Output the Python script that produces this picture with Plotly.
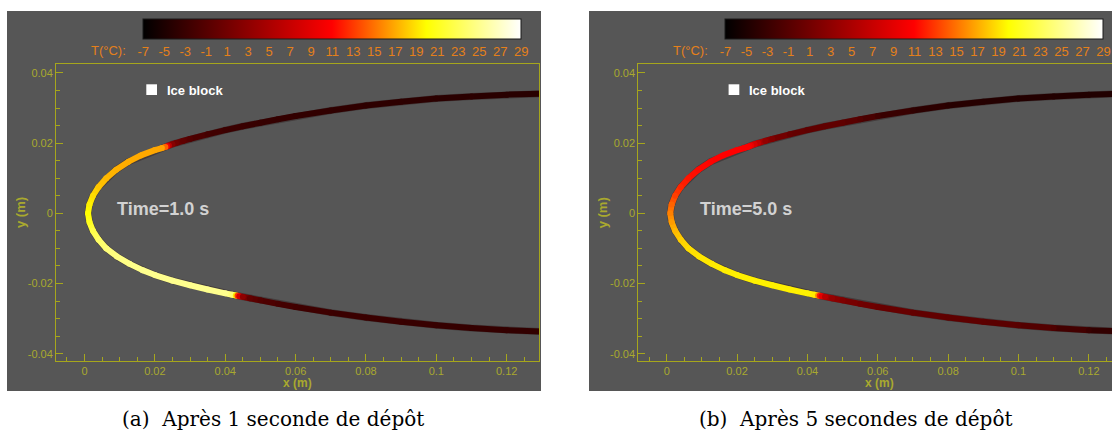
import plotly.graph_objects as go
from plotly.colors import sample_colorscale

# ---------------- data ----------------
# leading-edge wall: upper surface from the right end to the nose, then lower surface nose -> right end
x_curve = [0.1300, 0.1200, 0.1100, 0.1000, 0.0900, 0.0800, 0.0700, 0.0600, 0.0550, 0.0500,
           0.0450, 0.0400, 0.0350, 0.0300, 0.0280, 0.0260, 0.0250, 0.0240, 0.0235, 0.0230,
           0.0220, 0.0200, 0.0160, 0.0125, 0.0090, 0.0062, 0.0040, 0.0024, 0.0014, 0.0010,
           0.0014, 0.0024, 0.0040, 0.0062, 0.0092, 0.0128, 0.0165, 0.0200, 0.0250, 0.0300,
           0.0350, 0.0400, 0.0420, 0.0430, 0.0435, 0.0440, 0.0450, 0.0470, 0.0500, 0.0550,
           0.0600, 0.0700, 0.0800, 0.0900, 0.1000, 0.1100, 0.1200, 0.1300]
y_curve = [0.0341, 0.0338, 0.0333, 0.0327, 0.0318, 0.0307, 0.0293, 0.0277, 0.0268, 0.0258,
           0.0248, 0.0237, 0.0225, 0.0212, 0.0206, 0.0200, 0.0197, 0.0193, 0.0191, 0.0189,
           0.0186, 0.0180, 0.0165, 0.0147, 0.0124, 0.0100, 0.0075, 0.0050, 0.0025, 0.0000,
           -0.0025, -0.0050, -0.0075, -0.0100, -0.0123, -0.0144, -0.0162, -0.0176, -0.0192, -0.0205,
           -0.0217, -0.0228, -0.0232, -0.0234, -0.0235, -0.0236, -0.0238, -0.0242, -0.0248, -0.0258,
           -0.0267, -0.0283, -0.0297, -0.0309, -0.0319, -0.0327, -0.0333, -0.0337]

# temperature (°C) along the wall, t = 1 s
T_1s = [-4.2, -4.2, -4.0, -4.0, -3.8, -3.8, -3.6, -3.5, -3.3, -3.2,
        -3.0, -2.8, -2.2, -1.2, -0.3, 1.0, 2.5, 6.0, 10.0, 14.5,
        16.8, 16.9, 17.0, 17.1, 17.2, 17.5, 18.0, 18.8, 19.5, 20.0,
        21.0, 22.5, 23.5, 24.2, 24.6, 24.8, 25.0, 25.0, 25.0, 25.0,
        25.0, 25.0, 24.0, 19.0, 13.0, 8.0, 3.0, 0.0, -1.2, -2.0,
        -2.5, -2.8, -3.0, -3.0, -3.2, -3.3, -3.4, -3.5]
# temperature (°C) along the wall, t = 5 s
T_5s = [-4.7, -4.7, -4.6, -4.5, -4.4, -4.2, -3.6, -2.5, -1.2, -0.3,
        -0.2, -0.3, 0.3, 2.0, 3.5, 6.5, 8.0, 9.5, 10.2, 10.7,
        10.8, 11.0, 11.0, 11.1, 11.3, 11.7, 12.3, 13.2, 14.5, 15.5,
        16.5, 17.5, 18.3, 18.8, 19.1, 19.3, 19.4, 19.5, 19.5, 19.5,
        19.5, 19.5, 19.3, 16.0, 12.0, 9.0, 6.0, 3.5, 2.0, 1.0,
        0.5, 0.0, -0.3, -0.5, -0.8, -1.5, -3.0, -4.0]

T_min, T_max = -7, 29
cbar_vals = [-7, -5, -3, -1, 1, 3, 5, 7, 9, 11, 13, 15, 17, 19, 21, 23, 25, 27, 29]
cbar_text = ["-7", "-5", "-3", "-1", "1", "3", "5", "7", "9", "11", "13", "15", "17",
             "19", "21", "23", "25", "27", "29"]
x_tick_vals = [0, 0.02, 0.04, 0.06, 0.08, 0.1, 0.12]
x_tick_text = ["0", "0.02", "0.04", "0.06", "0.08", "0.1", "0.12"]
y_tick_vals = [-0.04, -0.02, 0, 0.02, 0.04]
y_tick_text = ["-0.04", "-0.02", "0", "0.02", "0.04"]
time_labels = ["Time=1.0 s", "Time=5.0 s"]
captions = ["(a)\u00a0 Après 1 seconde de dépôt", "(b)\u00a0 Après 5 secondes de dépôt"]
panel_T = [T_1s, T_5s]

# ---------------- style ----------------
W, H = 1112, 432
GRAY = "#565656"
OLIVE = "#a6a61c"
OLIVE_TXT = "#a9a92e"
ORANGE = "#e5801a"
SANS = "Liberation Sans, Arial, Helvetica, sans-serif"
SERIF = "DejaVu Serif, serif"
hot = [[0.0, "#000000"], [0.5, "#ff0000"], [0.75, "#ffff00"], [1.0, "#ffffff"]]


def px(p):
    return p / W


def py(p):
    return 1 - p / H


# pixel geometry of the two panels
panels = [
    dict(bg=(7, 541), frame=(56.0, 539.3), x0px=84.5),
    dict(bg=(589, 1112), frame=(638.3, 1112.0), x0px=666.7),
]
XS = 3518.0   # px per unit (x)
YS = 3510.0   # px per unit (y)
Y_TOP, Y_BOT, Y0PX = 64.0, 361.0, 213.3

fig = go.Figure()
shapes, annotations = [], []
layout_axes = {}

for k, p in enumerate(panels):
    sfx = "" if k == 0 else str(k + 1)
    xa, ya = "x" + sfx, "y" + sfx
    cax = "coloraxis" + sfx
    T = panel_T[k]
    dx = p["frame"][0] - panels[0]["frame"][0]

    # faint dark outline under the wall
    fig.add_trace(go.Scatter(x=x_curve, y=y_curve, mode="lines", xaxis=xa, yaxis=ya,
                             line=dict(color="rgba(25,0,0,0.3)", width=7),
                             hoverinfo="skip", showlegend=False))
    # coloured wall segments
    n = len(x_curve)
    for i in range(n - 1):
        f = ((T[i] + T[i + 1]) / 2 - T_min) / (T_max - T_min)
        c = sample_colorscale(hot, [min(max(f, 0), 1)])[0]
        fig.add_trace(go.Scatter(x=[x_curve[i], x_curve[i + 1]], y=[y_curve[i], y_curve[i + 1]],
                                 mode="lines", xaxis=xa, yaxis=ya,
                                 line=dict(color=c, width=6),
                                 hoverinfo="skip", showlegend=False))
    fig.add_trace(go.Scatter(x=x_curve, y=y_curve, mode="markers", xaxis=xa, yaxis=ya,
                             marker=dict(color=T, coloraxis=cax, size=6, line=dict(width=0)),
                             hovertemplate="x=%{x}<br>y=%{y}<br>T=%{marker.color} °C<extra></extra>",
                             showlegend=False))

    L, R = p["frame"]
    axis_common = dict(showline=True, linecolor=OLIVE, linewidth=1, showgrid=False,
                       zeroline=False, ticks="inside", tickcolor=OLIVE, ticklen=7, tickwidth=1,
                       tickfont=dict(family=SANS, size=11, color=OLIVE_TXT))
    layout_axes["xaxis" + sfx] = dict(
        axis_common, domain=[px(L), px(R) if R < W else 1.0],
        range=[(L - p["x0px"]) / XS, (R - p["x0px"]) / XS],
        anchor=ya, mirror=True, tickmode="array", tickvals=x_tick_vals, ticktext=x_tick_text,
        minor=dict(tickmode="linear", tick0=0, dtick=0.005, ticks="inside", ticklen=4,
                   tickcolor=OLIVE, showgrid=False))
    layout_axes["yaxis" + sfx] = dict(
        axis_common, domain=[py(Y_BOT), py(Y_TOP)],
        range=[(Y0PX - Y_BOT) / YS, (Y0PX - Y_TOP) / YS],
        anchor=xa, mirror=(k == 0), tickmode="array", tickvals=y_tick_vals, ticktext=y_tick_text,
        minor=dict(tickmode="linear", tick0=0, dtick=0.005, ticks="inside", ticklen=4,
                   tickcolor=OLIVE, showgrid=False))

    # colour bar
    cb_l, cb_r = 143.0 + dx, 521.4 + dx
    layout_axes[cax] = dict(
        colorscale=hot, cmin=T_min, cmax=T_max,
        colorbar=dict(orientation="h", x=px((cb_l + cb_r) / 2), xanchor="center",
                      y=py(19.3), yanchor="top", len=cb_r - cb_l, lenmode="pixels",
                      thickness=20, thicknessmode="pixels", xpad=0, ypad=0,
                      outlinewidth=1, outlinecolor="#1a1a1a",
                      tickmode="array", tickvals=cbar_vals, ticktext=cbar_text,
                      ticks="", ticklabelposition="outside",
                      tickfont=dict(family=SANS, size=13, color=ORANGE)))

    # panel background
    shapes.append(dict(type="rect", xref="paper", yref="paper", layer="below",
                       x0=px(p["bg"][0]), x1=px(p["bg"][1]), y0=py(391), y1=py(11),
                       fillcolor=GRAY, line=dict(width=0)))
    # legend glyph
    shapes.append(dict(type="rect", xref="paper", yref="paper",
                       x0=px(146.3 + dx), x1=px(157.0 + dx), y0=py(95.0), y1=py(84.3),
                       fillcolor="white", line=dict(width=0)))

    annotations += [
        dict(text="T(°C):", xref="paper", yref="paper", x=px(128 + dx), y=py(50.7),
             xanchor="right", yanchor="middle", showarrow=False,
             font=dict(family=SANS, size=13, color=ORANGE)),
        dict(text="Ice block", xref="paper", yref="paper", x=px(164.5 + dx), y=py(90),
             xanchor="left", yanchor="middle", showarrow=False,
             font=dict(family=SANS, size=13, color="white", weight="bold")),
        dict(text=time_labels[k], xref=xa, yref=ya, x=(115.3 - 84.5) / XS, y=(Y0PX - 209.0) / YS,
             xanchor="left", yanchor="middle", showarrow=False,
             font=dict(family=SANS, size=18, color="#d2d2d2", weight="bold")),
        dict(text="x (m)", xref="paper", yref="paper", x=px((L + (R if k == 0 else 1121)) / 2),
             y=py(382.5), xanchor="center", yanchor="middle", showarrow=False,
             font=dict(family=SANS, size=12, color=OLIVE_TXT, weight="bold")),
        dict(text="y (m)", xref="paper", yref="paper", x=px(20.5 + dx), y=py(212.5),
             xanchor="center", yanchor="middle", showarrow=False, textangle=-90,
             font=dict(family=SANS, size=13, color=OLIVE_TXT, weight="bold")),
        dict(text=captions[k], xref="paper", yref="paper", x=px(273 + (582 if k else 0)),
             y=py(419), xanchor="center", yanchor="middle", showarrow=False,
             font=dict(family=SERIF, size=20, color="black")),
    ]

fig.update_layout(
    width=W, height=H, margin=dict(l=0, r=0, t=0, b=0),
    paper_bgcolor="white", plot_bgcolor=GRAY,
    shapes=shapes, annotations=annotations, showlegend=False,
    **layout_axes,
)

fig.write_html("out.html", config={"displayModeBar": False},
               post_script="document.body.style.margin='0';document.body.style.overflow='hidden';")
